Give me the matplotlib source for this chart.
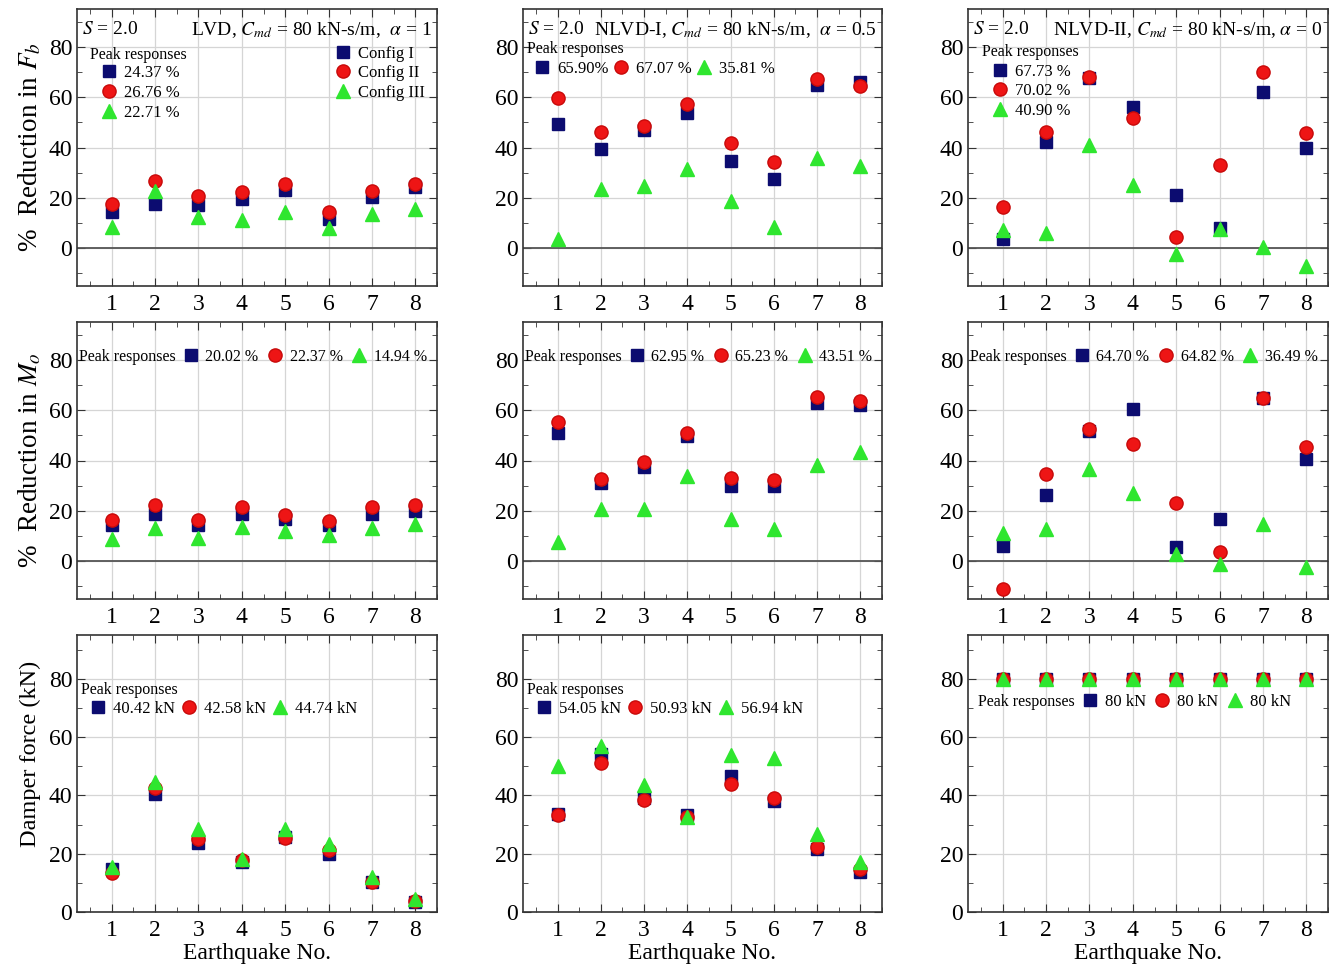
import numpy as np
import matplotlib
matplotlib.use("Agg")
import matplotlib.pyplot as plt

plt.rcParams['font.family'] = ['Liberation Serif', 'DejaVu Serif']
plt.rcParams['mathtext.fontset'] = 'stix'

eq = np.arange(1, 9)

# row 1: % reduction in base shear Fb
fb_lvd_1 = [14.3, 17.7, 17.3, 19.4, 23.0, 11.7, 20.3, 24.37]
fb_lvd_2 = [17.7, 26.76, 20.6, 22.3, 25.6, 14.4, 22.7, 25.6]
fb_lvd_3 = [8.4, 22.71, 12.4, 11.1, 14.4, 8.2, 13.7, 15.7]
fb_nl1_1 = [49.2, 39.3, 46.9, 53.7, 34.7, 27.6, 65.0, 65.90]
fb_nl1_2 = [59.7, 46.3, 48.6, 57.2, 41.7, 34.1, 67.07, 64.3]
fb_nl1_3 = [3.7, 23.5, 24.6, 31.4, 18.7, 8.4, 35.81, 32.5]
fb_nl2_1 = [3.7, 42.2, 67.73, 56.2, 21.1, 7.9, 62.0, 39.7]
fb_nl2_2 = [16.4, 46.3, 67.9, 51.9, 4.4, 32.9, 70.02, 45.7]
fb_nl2_3 = [7.1, 6.1, 40.90, 25.3, -2.4, 7.5, 0.5, -7.1]

# row 2: % reduction in overturning moment Mo
mo_lvd_1 = [14.2, 18.9, 14.3, 18.6, 16.6, 14.3, 18.9, 20.02]
mo_lvd_2 = [16.4, 22.37, 16.2, 21.4, 18.3, 15.9, 21.6, 22.3]
mo_lvd_3 = [8.7, 13.3, 9.3, 13.6, 12.0, 10.4, 13.0, 14.94]
mo_nl1_1 = [50.9, 31.1, 37.6, 49.9, 30.0, 30.0, 62.95, 62.2]
mo_nl1_2 = [55.4, 32.8, 39.6, 50.8, 33.0, 32.1, 65.23, 63.6]
mo_nl1_3 = [7.8, 20.7, 20.9, 33.8, 16.6, 12.6, 38.3, 43.51]
mo_nl2_1 = [5.9, 26.3, 51.8, 60.5, 5.7, 16.8, 64.70, 40.7]
mo_nl2_2 = [-11.2, 34.5, 52.5, 46.7, 23.2, 3.7, 64.82, 45.4]
mo_nl2_3 = [11.3, 12.9, 36.49, 27.1, 2.8, -1.2, 14.9, -2.2]

# row 3: damper force (kN)
fd_lvd_1 = [14.6, 40.42, 23.8, 17.0, 25.6, 19.8, 10.4, 3.5]
fd_lvd_2 = [13.3, 42.58, 24.9, 17.8, 25.3, 21.1, 10.2, 3.9]
fd_lvd_3 = [15.3, 44.74, 28.4, 18.1, 28.6, 23.3, 11.9, 4.3]
fd_nl1_1 = [33.5, 54.05, 39.2, 33.1, 46.5, 38.1, 21.6, 13.6]
fd_nl1_2 = [33.1, 50.93, 38.4, 32.5, 43.9, 39.0, 22.4, 14.6]
fd_nl1_3 = [50.2, 56.94, 43.6, 32.5, 53.8, 52.7, 26.8, 17.0]
fd_nl2_1 = [80, 80, 80, 80, 80, 80, 80, 80]
fd_nl2_2 = [80, 80, 80, 80, 80, 80, 80, 80]
fd_nl2_3 = [80, 80, 80, 80, 80, 80, 80, 80]

peak_labels = [
    [['24.37 %', '26.76 %', '22.71 %'], ['65.90%', '67.07 %', '35.81 %'], ['67.73 %', '70.02 %', '40.90 %']],
    [['20.02 %', '22.37 %', '14.94 %'], ['62.95 %', '65.23 %', '43.51 %'], ['64.70 %', '64.82 %', '36.49 %']],
    [['40.42 kN', '42.58 kN', '44.74 kN'], ['54.05 kN', '50.93 kN', '56.94 kN'], ['80 kN', '80 kN', '80 kN']],
]
config_labels = ['Config I', 'Config II', 'Config III']
titles_left = ['$S$ = 2.0', '$S$ = 2.0', '$S$ = 2.0']
titles_right = ['LVD, $C_{md}$ = 80 kN-s/m,  $\\alpha$ = 1',
                'NLVD-I, $C_{md}$ = 80 kN-s/m,  $\\alpha$ = 0.5',
                'NLVD-II, $C_{md}$ = 80 kN-s/m, $\\alpha$ = 0']
ylabels = ['%  Reduction in $F_b$', '%  Reduction in $M_o$', 'Damper force (kN)']
ylabel_sizes = [19.5, 19.5, 17.5]

data = [
    [(fb_lvd_1, fb_lvd_2, fb_lvd_3), (fb_nl1_1, fb_nl1_2, fb_nl1_3), (fb_nl2_1, fb_nl2_2, fb_nl2_3)],
    [(mo_lvd_1, mo_lvd_2, mo_lvd_3), (mo_nl1_1, mo_nl1_2, mo_nl1_3), (mo_nl2_1, mo_nl2_2, mo_nl2_3)],
    [(fd_lvd_1, fd_lvd_2, fd_lvd_3), (fd_nl1_1, fd_nl1_2, fd_nl1_3), (fd_nl2_1, fd_nl2_2, fd_nl2_3)],
]

styles = [
    dict(marker='s', color='#0c0c70', markeredgecolor='#0c0c70', markersize=8),
    dict(marker='o', color='#ee1515', markeredgecolor='#c80a0a', markersize=9.5),
    dict(marker='^', color='#2fe62f', markeredgecolor='#2fe62f', markersize=10.5),
]

W, H = 1341, 967
fig = plt.figure(figsize=(W / 100, H / 100), dpi=100)
col_x = [(77, 437), (523, 882), (968, 1328)]
row_y = [(9, 286), (322, 599), (635, 912)]

for r in range(3):
    for c in range(3):
        x0, x1 = col_x[c]
        y0, y1 = row_y[r]
        ax = fig.add_axes([x0 / W, 1 - y1 / H, (x1 - x0) / W, (y1 - y0) / H])
        handles = []
        for k in range(3):
            h, = ax.plot(eq, data[r][c][k], linestyle='none', zorder=3, **styles[k])
            handles.append(h)
        ax.set_xticks(eq)
        ax.set_xticks(np.arange(0.5, 8.6, 1.0), minor=True)
        ax.set_yticks([0, 20, 40, 60, 80])
        ax.set_yticks(np.arange(-10, 95, 20), minor=True)
        ax.set_xlim(0.2, 8.5)
        if r < 2:
            ax.set_ylim(-15, 95)
            ax.axhline(0, color='#555555', lw=1.3, zorder=2)
        else:
            ax.set_ylim(0, 95)
        ax.grid(True, which='major', color='#d5d5d5', lw=0.9, zorder=0)
        ax.tick_params(which='both', direction='in', top=True, right=True,
                       labelsize=17, color='#333333')
        ax.tick_params(axis='x', which='major', pad=6)
        ax.tick_params(which='major', length=6)
        ax.tick_params(which='minor', length=3.5)
        for s in ax.spines.values():
            s.set_color('#333333')
            s.set_linewidth(1.2)
        if c == 0:
            ax.set_ylabel(ylabels[r], fontsize=ylabel_sizes[r], labelpad=4)
            if r == 2:
                ax.yaxis.set_label_coords(-0.10, 0.57)
        if r == 2:
            ax.set_xlabel('Earthquake No.', fontsize=17, labelpad=1)

        labels = peak_labels[r][c]
        leg_kw = dict(frameon=False, handletextpad=0.3,
                      borderaxespad=0, borderpad=0, handlelength=1.2)
        if r == 0:
            ax.text(0.014, 0.925, titles_left[c], transform=ax.transAxes,
                    fontsize=14, va='center', ha='left')
            ax.text(0.985, 0.925, titles_right[c], transform=ax.transAxes,
                    fontsize=14, va='center', ha='right')
            if c == 1:
                ax.text(0.012, 0.857, 'Peak responses', transform=ax.transAxes,
                        fontsize=11.5, va='center', ha='left')
                ax.legend(handles, labels, loc='center left', ncol=3, fontsize=12,
                          bbox_to_anchor=(0.025, 0.785), columnspacing=0.15, **leg_kw)
            else:
                ax.text(0.036 if c == 0 else 0.04, 0.835 if c == 0 else 0.843,
                        'Peak responses', transform=ax.transAxes, fontsize=11.5,
                        va='center', ha='left')
                ax.legend(handles, labels, loc='upper left', ncol=1, fontsize=12,
                          bbox_to_anchor=(0.06, 0.797 if c == 0 else 0.803),
                          labelspacing=0.22, **leg_kw)
            if c == 0:
                leg = ax.legend_
                ax.add_artist(leg)
                ax.legend(handles, config_labels, loc='upper left', ncol=1, fontsize=12,
                          bbox_to_anchor=(0.71, 0.868), labelspacing=0.22, **leg_kw)
        elif r == 1:
            ax.text(0.005, 0.874, 'Peak responses', transform=ax.transAxes,
                    fontsize=11.5, va='center', ha='left')
            ax.legend(handles, labels, loc='center left', ncol=3, fontsize=11.5,
                      bbox_to_anchor=(0.29, 0.874), columnspacing=0.45, **leg_kw)
        else:
            if c < 2:
                ax.text(0.01, 0.80, 'Peak responses', transform=ax.transAxes,
                        fontsize=11.5, va='center', ha='left')
                ax.legend(handles, labels, loc='center left', ncol=3, fontsize=12,
                          bbox_to_anchor=(0.03, 0.733), columnspacing=0.25, **leg_kw)
            else:
                ax.text(0.028, 0.758, 'Peak responses', transform=ax.transAxes,
                        fontsize=11.5, va='center', ha='left')
                ax.legend(handles, labels, loc='center left', ncol=3, fontsize=12,
                          bbox_to_anchor=(0.31, 0.758), columnspacing=0.4, **leg_kw)

fig.savefig('out.png', dpi=100, facecolor='white')
